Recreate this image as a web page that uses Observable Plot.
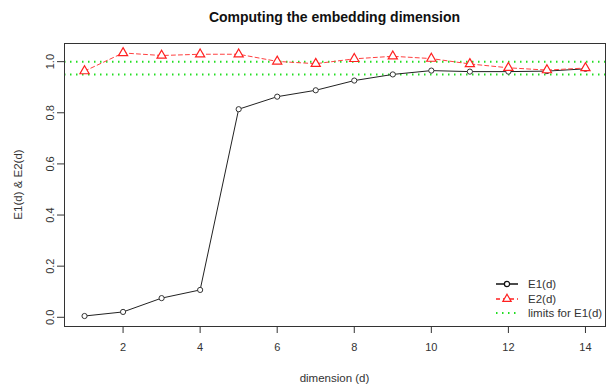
<!DOCTYPE html>
<html>
<head>
<meta charset="utf-8">
<script src="https://cdn.jsdelivr.net/npm/d3@7"></script>
<script src="https://cdn.jsdelivr.net/npm/@observablehq/plot@0.6"></script>
<style>
  body { margin: 0; background: #fff; }
  svg { display: block; }
</style>
</head>
<body>
<div id="chart"></div>
<script>
const dims = [1, 2, 3, 4, 5, 6, 7, 8, 9, 10, 11, 12, 13, 14];
const e1 = [0.005, 0.021, 0.075, 0.107, 0.814, 0.863, 0.888, 0.926, 0.950, 0.965, 0.961, 0.961, 0.963, 0.972];
const e2 = [0.963, 1.034, 1.024, 1.029, 1.029, 1.001, 0.992, 1.011, 1.021, 1.012, 0.991, 0.976, 0.967, 0.975];
const limits = [0.95, 1.0];
const xTicks = [2, 4, 6, 8, 10, 12, 14];
const yTicks = [0, 0.2, 0.4, 0.6, 0.8, 1.0];
const title = "Computing the embedding dimension";
const xLabel = "dimension (d)";
const yLabel = "E1(d) & E2(d)";
const legendLabels = ["E1(d)", "E2(d)", "limits for E1(d)"];

const rows1 = dims.map((d, i) => ({d, v: e1[i]}));
const rows2 = dims.map((d, i) => ({d, v: e2[i]}));

const font = "'Liberation Sans', Arial, Helvetica, sans-serif";
const W = 606, H = 386;
const mL = 64, mR = 1, mT = 43, mB = 60;

const svg = Plot.plot({
  width: W,
  height: H,
  marginLeft: mL,
  marginRight: mR,
  marginTop: mT,
  marginBottom: mB,
  style: {fontFamily: font, fontSize: "11px", color: "#333", background: "#fff"},
  x: {domain: [0.48, 14.52]},
  y: {domain: [-0.036, 1.071]},
  marks: [
    Plot.ruleY(limits, {stroke: "#22dd22", strokeWidth: 2, strokeDasharray: "1.5,4.5"}),
    Plot.line(rows1, {x: "d", y: "v", stroke: "#222", strokeWidth: 1}),
    Plot.dot(rows1, {x: "d", y: "v", r: 2.6, stroke: "#333", fill: "#fff", strokeWidth: 1}),
    Plot.line(rows2, {x: "d", y: "v", stroke: "#ff4040", strokeWidth: 1, strokeDasharray: "4,3"}),
    Plot.dot(rows2, {x: "d", y: "v", symbol: "triangle", r: 3.4, stroke: "#ff2020", fill: "#fff", strokeWidth: 1.2}),
    Plot.frame({stroke: "#333", strokeWidth: 1}),
    Plot.axisX({ticks: xTicks, tickSize: 7, tickPadding: 10, label: null, fontSize: 11, stroke: "#333"}),
    Plot.axisY({ticks: yTicks, tickSize: 7, tickPadding: 4, tickRotate: -90, label: null, fontSize: 11,
                tickFormat: d3.format(".1f")})
  ]
});

const s = d3.select(svg);
const cx = mL + (W - mL - mR) / 2;
s.append("text").attr("x", cx).attr("y", 22).attr("text-anchor", "middle")
  .attr("font-family", font).attr("font-size", 14).attr("font-weight", "bold").attr("fill", "#111")
  .text(title);
s.append("text").attr("x", cx).attr("y", 382).attr("text-anchor", "middle")
  .attr("font-family", font).attr("font-size", 11.5).attr("fill", "#333")
  .text(xLabel);
s.append("text").attr("transform", `translate(22, ${(mT + H - mB) / 2}) rotate(-90)`)
  .attr("text-anchor", "middle")
  .attr("font-family", font).attr("font-size", 11.5).attr("fill", "#333")
  .text(yLabel);

// legend
const lg = s.append("g");
const ly = [284, 299, 313];
const lx0 = 496, lx1 = 518, tx = 528;
lg.append("line").attr("x1", lx0).attr("x2", lx1).attr("y1", ly[0]).attr("y2", ly[0]).attr("stroke", "#111").attr("stroke-width", 1.5);
lg.append("circle").attr("cx", (lx0 + lx1) / 2).attr("cy", ly[0]).attr("r", 2.6).attr("fill", "#fff").attr("stroke", "#111").attr("stroke-width", 1.2);
lg.append("line").attr("x1", lx0).attr("x2", lx1).attr("y1", ly[1]).attr("y2", ly[1]).attr("stroke", "#ff2020").attr("stroke-width", 1.5).attr("stroke-dasharray", "4,3");
lg.append("path").attr("d", d3.symbol(d3.symbolTriangle, 30)()).attr("transform", `translate(${(lx0 + lx1) / 2},${ly[1]})`).attr("fill", "#fff").attr("stroke", "#ff2020").attr("stroke-width", 1.2);
lg.append("line").attr("x1", lx0).attr("x2", lx1).attr("y1", ly[2]).attr("y2", ly[2]).attr("stroke", "#22dd22").attr("stroke-width", 2).attr("stroke-dasharray", "1.5,4.5");
legendLabels.forEach((t, i) => {
  lg.append("text").attr("x", tx).attr("y", ly[i]).attr("dy", "0.35em").attr("text-anchor", "start")
    .attr("font-family", font).attr("font-size", 11.5).attr("fill", "#333").text(t);
});

document.getElementById("chart").appendChild(svg);
</script>
</body>
</html>
